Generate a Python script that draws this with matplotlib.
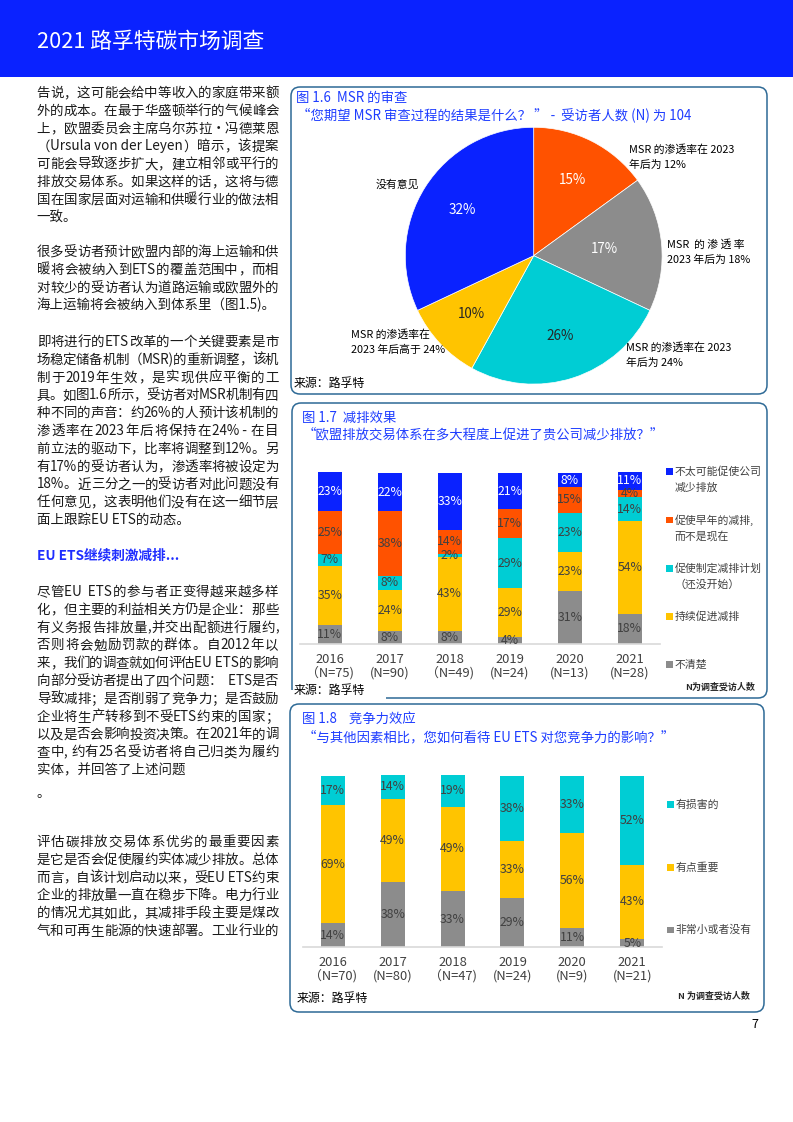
"""
路孚特碳市场调查 第7页：左栏正文 + 图1.6 饼图 + 图1.7/1.8 堆叠柱状图
输出 out.png (793x1122)
"""
import re
import numpy as np
import matplotlib
matplotlib.use("Agg")
import matplotlib.pyplot as plt
from matplotlib.transforms import Affine2D
from matplotlib.patches import FancyBboxPatch, Rectangle

plt.rcParams["font.family"] = ["Noto Sans CJK SC", "DejaVu Sans"]

W, H = 793, 1122

BLUE = "#0A22FF"
ORANGE = "#FF5200"
GREY = "#8C8C8C"
CYAN = "#00CDD4"
YELLOW = "#FFC400"
TITLE_BLUE = "#1E3DFF"
BORDER = "#2E6A96"
DARK = "#404040"
INK = "#1A1A1A"

# ---- 图1.6 数据
pie_values = [15, 17, 26, 10, 32]
pie_colors = [ORANGE, GREY, CYAN, YELLOW, BLUE]
pie_names = [
    "MSR 的渗透率在 2023\n年后为 12%",
    "MSR  的 渗 透 率\n2023 年后为 18%",
    "MSR 的渗透率在 2023\n年后为 24%",
    "MSR 的渗透率在\n2023 年后高于 24%",
    "没有意见",
]

# ---- 图1.7 数据 (自下而上)
years = ["2016", "2017", "2018", "2019", "2020", "2021"]
n_17 = ["（N=75)", "(N=90)", "（N=49)", "(N=24)", "(N=13)", "(N=28)"]
unclear_17 = [11, 8, 8, 4, 31, 18]
ongoing_17 = [35, 24, 43, 29, 23, 54]
plan_17 = [7, 8, 2, 29, 23, 14]
earlier_17 = [25, 38, 14, 17, 15, 4]
unlikely_17 = [23, 22, 33, 21, 8, 11]
legend_17 = ["不太可能促使公司\n减少排放", "促使早年的减排,\n而不是现在",
             "促使制定减排计划\n（还没开始）", "持续促进减排", "不清楚"]

# ---- 图1.8 数据 (自下而上)
n_18 = ["（N=70)", "(N=80)", "（N=47)", "(N=24)", "(N=9)", "(N=21)"]
small_18 = [14, 38, 33, 29, 11, 5]
some_18 = [69, 49, 49, 33, 56, 43]
harm_18 = [17, 14, 19, 38, 33, 52]
legend_18 = ["有损害的", "有点重要", "非常小或者没有"]

# ---- 左栏正文 (段落起点 y, 行)
paragraphs = [
    (93, ["告说，这可能会给中等收入的家庭带来额",
          "外的成本。在最于华盛顿举行的气候峰会",
          "上，欧盟委员会主席乌尔苏拉·冯德莱恩",
          "（Ursula von der Leyen）暗示，该提案",
          "可能会导致逐步扩大，建立相邻或平行的",
          "排放交易体系。如果这样的话，这将与德",
          "国在国家层面对运输和供暖行业的做法相",
          "一致。"]),
    (252, ["很多受访者预计欧盟内部的海上运输和供",
           "暖将会被纳入到ETS的覆盖范围中，而相",
           "对较少的受访者认为道路运输或欧盟外的",
           "海上运输将会被纳入到体系里（图1.5)。"]),
    (342, ["即将进行的ETS改革的一个关键要素是市",
           "场稳定储备机制（MSR)的重新调整，该机",
           "制于2019年生效，是实现供应平衡的工",
           "具。如图1.6所示，受访者对MSR机制有四",
           "种不同的声音：约26%的人预计该机制的",
           "渗透率在2023年后将保持在24% - 在目",
           "前立法的驱动下，比率将调整到12%。另",
           "有17%的受访者认为，渗透率将被设定为",
           "18%。近三分之一的受访者对此问题没有",
           "任何意见，这表明他们没有在这一细节层",
           "面上跟踪EU ETS的动态。"]),
    (592, ["尽管EU  ETS的参与者正变得越来越多样",
           "化，但主要的利益相关方仍是企业：那些",
           "有义务报告排放量,并交出配额进行履约,",
           "否则将会勉励罚款的群体。自2012年以",
           "来，我们的调查就如何评估EU ETS的影响",
           "向部分受访者提出了四个问题：  ETS是否",
           "导致减排；是否削弱了竞争力；是否鼓励",
           "企业将生产转移到不受ETS约束的国家；",
           "以及是否会影响投资决策。在2021年的调",
           "查中, 约有25名受访者将自己归类为履约",
           "实体，并回答了上述问题"]),
    (793, ["。"]),
    (842, ["评估碳排放交易体系优劣的最重要因素",
           "是它是否会促使履约实体减少排放。总体",
           "而言，自该计划启动以来，受EU ETS约束",
           "企业的排放量一直在稳步下降。电力行业",
           "的情况尤其如此，其减排手段主要是煤改",
           "气和可再生能源的快速部署。工业行业的"]),
]
continues_next_page = 842  # 最后一段跨页，末行也两端对齐

fig = plt.figure(figsize=(W / 100, H / 100), dpi=100)
PX = Affine2D().scale(1 / W, -1 / H).translate(0, 1) + fig.transFigure
renderer = fig.canvas.get_renderer()


def txt(x, y, s, **kw):
    kw.setdefault("va", "center")
    return fig.text(x, y, s, transform=PX, **kw)


def rows(x, y, step, s, **kw):
    for i, r in enumerate(s.split("\n")):
        txt(x, y + i * step, r, **kw)


def axes_px(x0, y0, x1, y1):
    return fig.add_axes([x0 / W, 1 - y1 / H, (x1 - x0) / W, (y1 - y0) / H])


def justify(x0, x1, y, line, **kw):
    # 中文两端对齐：逐字（英文连写）放置，均分剩余空隙
    parts = re.findall(r"[\x00-\x7f]+|.", line)
    objs = [txt(x0, y, p, ha="left", **kw) for p in parts]
    widths = [o.get_window_extent(renderer).width for o in objs]
    gap = (x1 - x0 - sum(widths)) / max(len(parts) - 1, 1)
    x = x0
    for o, w in zip(objs, widths):
        o.set_x(x)
        x += w + gap


# ---- 页眉
fig.add_artist(Rectangle((0, 0), W, 77, transform=PX, facecolor=BLUE, edgecolor="none"))
txt(37, 42, "2021 路孚特碳市场调查", color="white", fontsize=15.7)

# ---- 左栏
STEP = 17.8
for y0, lines in paragraphs:
    for i, line in enumerate(lines):
        y = y0 + i * STEP
        last = i == len(lines) - 1 and y0 != continues_next_page
        if last:
            txt(36.7, y, line, fontsize=9.7, color=INK)
        else:
            justify(36.7, 278.5, y, line, fontsize=9.7, color=INK)
txt(37, 555, "EU ETS继续刺激减排...", fontsize=9.8, color="#1E2DFF", fontweight="bold")

# ---- 图框
for x0, y0, x1, y1 in [(291, 87, 767, 394), (292, 403, 767, 698), (290, 704, 764, 1012)]:
    fig.add_artist(FancyBboxPatch((x0, y0), x1 - x0, y1 - y0,
                                  boxstyle="round,pad=0,rounding_size=9", transform=PX,
                                  fill=False, edgecolor=BORDER, linewidth=1.1))
fig.add_artist(Rectangle((288, 690), 98, 12, transform=PX, facecolor="white",
                         edgecolor="none", zorder=1.5))

# ---- 图1.6 饼图
cx, cy, r = 533.7, 255.7, 128.4
axp = axes_px(cx - r, cy - r, cx + r, cy + r)
wedges, _, autotexts = axp.pie(pie_values, colors=pie_colors, startangle=90,
                               counterclock=False, autopct=lambda p: f"{p:.0f}%",
                               pctdistance=0.66,
                               wedgeprops=dict(edgecolor="white", linewidth=0.5),
                               textprops=dict(fontsize=9.7))
axp.set_xlim(-1, 1)
axp.set_ylim(-1, 1)
for t, c in zip(autotexts, ["white", "white", "#262626", "#262626", "white"]):
    t.set_color(c)
autotexts[1].set_position(np.array(autotexts[1].get_position()) * 0.55 / 0.66)

name_pos = [(628.7, 149), (667.3, 244.3), (626.3, 347.3), (351.3, 334.3), (375.7, 185)]
for (x, y), s in zip(name_pos, pie_names):
    rows(x, y, 16, s, fontsize=7.8, color="black")

txt(296, 97.7, "图 1.6  MSR 的审查", color=TITLE_BLUE, fontsize=9.6)
txt(297, 114.3, "“您期望 MSR 审查过程的结果是什么？ ” -  受访者人数 (N) 为 104",
    color=TITLE_BLUE, fontsize=9.6)
txt(294, 383.3, "来源：路孚特", fontsize=8.6, color="black")


# ---- 堆叠柱状图
def stacked(ax, layers, colors, label_colors, ticklabels):
    x = np.arange(len(years))
    bottom = np.zeros(len(years))
    for vals, c, lc in zip(layers, colors, label_colors):
        vals = np.asarray(vals, dtype=float)
        bars = ax.bar(x, vals, width=0.4, bottom=bottom, color=c, linewidth=0)
        ax.bar_label(bars, labels=[f"{v:.0f}%" for v in vals], label_type="center",
                     color=lc, fontsize=8.8)
        bottom += vals
    ax.set_xlim(-0.5, 5.5)
    ax.set_ylim(0, 105)
    ax.set_xticks(x, ticklabels)
    ax.tick_params(axis="x", length=0, pad=6.5, labelsize=9.3, labelcolor=DARK)
    for t in ax.get_xticklabels():
        t.set_linespacing(1.0)
    ax.set_yticks([])
    for s in ("top", "right", "left"):
        ax.spines[s].set_visible(False)
    ax.spines["bottom"].set_color("#D9D9D9")
    ax.spines["bottom"].set_linewidth(1.2)
    ax.patch.set_visible(False)


def legend(x, ys, names, colors):
    for y, s, c in zip(ys, names, colors):
        fig.add_artist(Rectangle((x, y - 3.4), 6.8, 6.8, transform=PX, facecolor=c,
                                 edgecolor="none"))
        rows(x + 8.4, y, 16.2, s, fontsize=7.8, color=DARK)


# 图1.7
ax1 = axes_px(299.7, 644.3 - 1.71 * 105, 659.7, 644.3)
stacked(ax1, [unclear_17, ongoing_17, plan_17, earlier_17, unlikely_17],
        [GREY, YELLOW, CYAN, ORANGE, BLUE], [DARK, DARK, DARK, DARK, "white"],
        [f"{y}\n{n}" for y, n in zip(years, n_17)])
legend(666.3, [471.7, 520, 568.3, 616.7, 664.3], legend_17, [BLUE, ORANGE, CYAN, YELLOW, GREY])
txt(302, 418.3, "图 1.7  减排效果", color=TITLE_BLUE, fontsize=9.6)
txt(303, 434.3, "“欧盟排放交易体系在多大程度上促进了贵公司减少排放？”",
    color=TITLE_BLUE, fontsize=9.6)
txt(294, 690.7, "来源：路孚特", fontsize=8.6, color="black")
txt(755, 687.3, "N为调查受访人数", ha="right", fontsize=6.5, fontweight="bold", color="#262626")

# 图1.8
ax2 = axes_px(302.8, 947.3 - 1.71 * 105, 662.2, 947.3)
stacked(ax2, [small_18, some_18, harm_18], [GREY, YELLOW, CYAN], [DARK, DARK, DARK],
        [f"{y}\n{n}" for y, n in zip(years, n_18)])
legend(667.3, [804.3, 867.3, 930], legend_18, [CYAN, YELLOW, GREY])
txt(302, 719.3, "图 1.8    竞争力效应", color=TITLE_BLUE, fontsize=9.6)
txt(303, 737.3, "“与其他因素相比，您如何看待 EU ETS 对您竞争力的影响？”",
    color=TITLE_BLUE, fontsize=9.6)
txt(296.3, 998.3, "来源：路孚特", fontsize=8.6, color="black")
txt(750, 996.7, "N 为调查受访人数", ha="right", fontsize=6.5, fontweight="bold", color="#262626")

# ---- 页码
txt(751.7, 1025, "7", fontsize=9, color="black")

fig.savefig("out.png", dpi=100)
